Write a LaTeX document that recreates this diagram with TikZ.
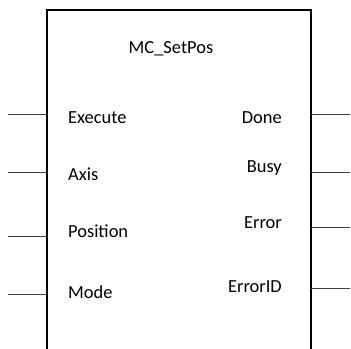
\documentclass[tikz,border=0pt]{standalone}
\usepackage{fontspec}
\setmainfont{Carlito}
\tikzset{block/.style={draw=black,line width=1.1pt},
  pin/.style={draw=black!75,line width=0.9pt},
  port/.style={inner sep=0pt,font=\fontsize{18.5}{22}\selectfont}}

\begin{document}
\begin{tikzpicture}[x=1bp,y=1bp]
  \useasboundingbox (0,0) rectangle (351,349);
  \draw[block] (47,0) -- (47,339) -- (311,339) -- (311,0);
  \node[port,anchor=base] (title) at (171,296) {MC\_SetPos};
  % inputs
  \node[port,anchor=base west] (execute) at (68,226) {Execute};
  \node[port,anchor=base west] (axis) at (68,169) {Axis};
  \node[port,anchor=base west] (position) at (68,112) {Position};
  \node[port,anchor=base west] (mode) at (68,51) {Mode};
  \coordinate (execute-in) at (47,234.5);
  \coordinate (execute-end) at (8,234.5);
  \coordinate (axis-in) at (47,176.5);
  \coordinate (axis-end) at (8,176.5);
  \coordinate (position-in) at (47,113);
  \coordinate (position-end) at (8,113);
  \coordinate (mode-in) at (47,55);
  \coordinate (mode-end) at (8,55);
  \draw[pin] (execute-end) -- (execute-in);
  \draw[pin] (axis-end) -- (axis-in);
  \draw[pin] (position-end) -- (position-in);
  \draw[pin] (mode-end) -- (mode-in);
  % outputs
  \node[port,anchor=base east] (done) at (282,226) {Done};
  \node[port,anchor=base east] (busy) at (282,177) {Busy};
  \node[port,anchor=base east] (error) at (282,121) {Error};
  \node[port,anchor=base east] (errorid) at (282,57) {ErrorID};
  \coordinate (done-out) at (311,234.5);
  \coordinate (done-end) at (350,234.5);
  \coordinate (busy-out) at (311,176.5);
  \coordinate (busy-end) at (350,176.5);
  \coordinate (error-out) at (311,122);
  \coordinate (error-end) at (350,122);
  \coordinate (errorid-out) at (311,61);
  \coordinate (errorid-end) at (350,61);
  \draw[pin] (done-out) -- (done-end);
  \draw[pin] (busy-out) -- (busy-end);
  \draw[pin] (error-out) -- (error-end);
  \draw[pin] (errorid-out) -- (errorid-end);
\end{tikzpicture}
\end{document}
